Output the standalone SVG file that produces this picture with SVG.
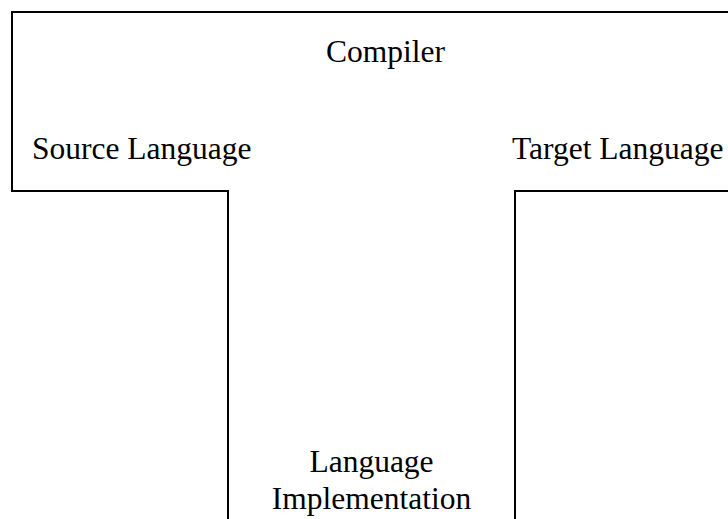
<svg xmlns="http://www.w3.org/2000/svg" width="728" height="519" viewBox="0 0 728 519">
<style>
.outline{fill:none;stroke:#000;stroke-width:2}
.t{font-family:"Liberation Serif","Times New Roman",serif;font-size:31.5px;fill:#000}
</style>
<rect x="0" y="0" width="728" height="519" fill="#fff"/>
<g id="compiler">
<path class="outline" d="M740 12 H12 V191 H228 V530 M515 530 V191 H740"/>
<text class="t" x="385.5" y="62" text-anchor="middle">Compiler</text>
<text class="t" x="32" y="159">Source Language</text>
<text class="t" x="512" y="159">Target Language</text>
<text class="t" x="371.5" y="472" text-anchor="middle">Language</text>
<text class="t" x="371.5" y="509" text-anchor="middle">Implementation</text>
</g>
<g id="connectors"/>
</svg>
